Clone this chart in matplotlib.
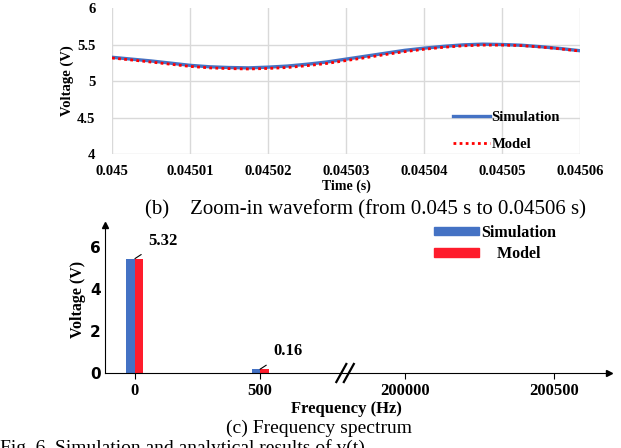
import matplotlib
matplotlib.use("Agg")
import matplotlib.pyplot as plt
from matplotlib.patches import Patch

# --- datos: forma de onda ampliada (b) ---
t_us = [0, 2.5, 5, 7.5, 10, 12.5, 15, 17.5, 20, 22.5, 25, 27.5, 30,
        32.5, 35, 37.5, 40, 42.5, 45, 47.5, 50, 52.5, 55, 57.5, 60]
v_sim = [5.325, 5.300, 5.275, 5.245, 5.215, 5.195, 5.185, 5.180, 5.190, 5.205,
         5.230, 5.260, 5.300, 5.340, 5.380, 5.420, 5.450, 5.475, 5.495, 5.505,
         5.500, 5.490, 5.470, 5.445, 5.415]
v_model = [5.315, 5.288, 5.260, 5.230, 5.200, 5.180, 5.170, 5.165, 5.172, 5.185,
           5.210, 5.240, 5.280, 5.320, 5.362, 5.402, 5.435, 5.462, 5.482, 5.492,
           5.492, 5.485, 5.465, 5.440, 5.410]
x_ticks_b = [0.045, 0.04501, 0.04502, 0.04503, 0.04504, 0.04505, 0.04506]
y_ticks_b = [4, 4.5, 5, 5.5, 6]

# --- datos: espectro (c) ---
frecuencias = ["0", "500", "200000", "200500"]
amp_sim = [5.45, 0.18, 0, 0]
amp_model = [5.45, 0.18, 0, 0]
etiquetas = ["5.32", "0.16"]

AZUL = "#4472c4"
ROJO = "#fe1c2c"
SERIF = "Liberation Serif"

fig = plt.figure(figsize=(6.21, 4.48), dpi=100)

# -----------------------------
# (b) forma de onda
# -----------------------------
ax1 = fig.add_axes([0.1804, 0.6562, 0.7536, 0.3259])
t = [0.045 + x * 1e-6 for x in t_us]
ax1.plot(t, v_sim, color=AZUL, lw=2.4, label="Simulation")
ax1.plot(t, v_model, color="red", lw=2, ls=(0, (1, 1.2)), label="Model")
ax1.set_xlim(0.045, 0.04506)
ax1.set_ylim(4, 6)
ax1.set_xticks(x_ticks_b)
ax1.set_xticklabels([f"{x:g}" for x in x_ticks_b])
ax1.set_yticks(y_ticks_b)
ax1.set_yticklabels([f"{y:g}" for y in y_ticks_b])
ax1.grid(True, color="#d9d9d9", lw=1)
ax1.yaxis.get_gridlines()[-1].set_visible(False)
for s in ax1.spines.values():
    s.set_visible(False)
ax1.tick_params(length=0, pad=8)
for lab in ax1.get_xticklabels() + ax1.get_yticklabels():
    lab.set_fontfamily(SERIF)
    lab.set_fontweight("bold")
    lab.set_fontsize(10.5)
ax1.tick_params(axis="y", pad=12)
ax1.set_xlabel("Time (s)", fontfamily=SERIF, fontweight="bold", fontsize=10, labelpad=1)
ax1.set_ylabel("Voltage (V)", fontfamily=SERIF, fontweight="bold", fontsize=10.5, labelpad=2)
ax1.legend(loc="lower right", bbox_to_anchor=(0.985, -0.07), frameon=False,
           prop={"family": SERIF, "weight": "bold", "size": 10.5},
           handlelength=2.5, handletextpad=0.1, labelspacing=0.95)

fig.text(0.588, 1 - 210 / 448, "(b)    Zoom-in waveform (from 0.045 s to 0.04506 s)",
         ha="center", va="center", fontfamily=SERIF, fontsize=15)

# -----------------------------
# (c) espectro de frecuencia
# -----------------------------
ax2 = fig.add_axes([0.169, 0.1674, 0.8116, 0.3304])
pos = [0, 1, 2.16, 3.35]
ancho = 0.068
ax2.bar([p - ancho / 2 for p in pos], amp_sim, width=ancho, color=AZUL, label="Simulation")
ax2.bar([p + ancho / 2 for p in pos], amp_model, width=ancho, color=ROJO, label="Model")
ax2.set_xlim(-0.24, 3.79)
ax2.set_ylim(0, 7.05)
ax2.set_xticks(pos)
ax2.set_xticklabels(frecuencias, fontfamily=SERIF, fontweight="bold", fontsize=12)
ax2.set_yticks([0, 2, 4, 6])
ax2.set_yticklabels(["0", "2", "4", "6"], fontweight="bold", fontsize=11)
ax2.tick_params(axis="y", length=0, pad=3)
ax2.tick_params(axis="x", length=4, width=0.8, pad=3)
ax2.spines["top"].set_visible(False)
ax2.spines["right"].set_visible(False)
ax2.plot(1, 0, ">k", ms=4, transform=ax2.transAxes, clip_on=False)
ax2.plot(0, 1, "^k", ms=4, transform=ax2.transAxes, clip_on=False)
ax2.set_xlabel("Frequency (Hz)", fontfamily=SERIF, fontweight="bold", fontsize=12)
ax2.xaxis.set_label_coords(0.48, -0.19)
ax2.set_ylabel("Voltage (V)", fontfamily=SERIF, fontweight="bold", fontsize=11.5, labelpad=3)

# corte del eje
corte = 1.68
for dx in (-0.03, 0.03):
    ax2.plot([corte + dx - 0.04, corte + dx + 0.04], [-0.43, 0.43], color="black",
             lw=1.6, clip_on=False)

# etiquetas de valor
for i, txt in enumerate(etiquetas):
    ax2.annotate(txt, xy=(pos[i], amp_sim[i]), xytext=(pos[i] + 0.22, amp_sim[i] + 0.85),
                 ha="center", va="center", fontfamily=SERIF, fontweight="bold", fontsize=12,
                 arrowprops=dict(arrowstyle="-", color="black", lw=0.8, shrinkA=4, shrinkB=0))

handles = [Patch(color=AZUL), Patch(color=ROJO)]
ax2.legend(handles, ["Simulation", "    Model"], loc="upper left", bbox_to_anchor=(0.625, 1.1),
           frameon=False, prop={"family": SERIF, "weight": "bold", "size": 11.5},
           handlelength=2.8, handleheight=0.45, handletextpad=0.15, labelspacing=0.35)

fig.text(0.514, 1 - 428 / 448, "(c) Frequency spectrum", ha="center", va="center",
         fontfamily=SERIF, fontsize=14)
fig.text(0.0, 1 - 453 / 448, "Fig. 6. Simulation and analytical results of v(t)",
         ha="left", va="baseline", fontfamily=SERIF, fontsize=14)

fig.savefig("out.png", dpi=100)
